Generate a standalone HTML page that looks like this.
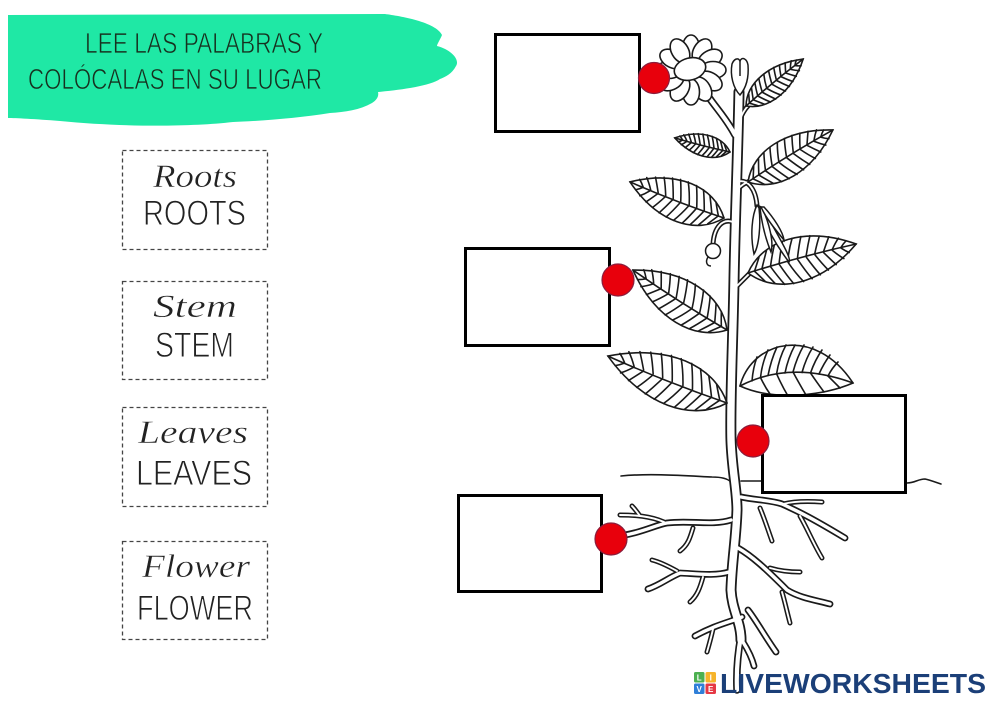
<!DOCTYPE html>
<html>
<head>
<meta charset="utf-8">
<style>
html,body{margin:0;padding:0;background:#fff;}
svg{display:block;}
</style>
</head>
<body>
<svg width="1000" height="707" viewBox="0 0 1000 707" xmlns="http://www.w3.org/2000/svg">
<defs>
  <g id="leaf" fill="none" stroke="#1a1a1a" stroke-width="1.6" stroke-linecap="round">
    <path vector-effect="non-scaling-stroke" fill="#fff" d="M0,0 C20,-22 60,-24 100,0 C60,24 20,22 0,0 Z"/>
    <path vector-effect="non-scaling-stroke" d="M0,0 Q50,-2 100,0"/>
    <path vector-effect="non-scaling-stroke" d="M6,0 Q9,-4 13,-9.5 M13,-0.4 Q17,-7 21,-13 M21,-0.6 Q25,-9 29,-15.5 M29,-0.8 Q33,-10 37,-16.8 M37,-1 Q41,-10 46,-17.2 M46,-1 Q50,-10 54,-16.8 M54,-1 Q58,-9 62,-15.6 M62,-1 Q66,-8 70,-13.4 M70,-0.8 Q74,-6 78,-11 M78,-0.6 Q82,-5 86,-8 M86,-0.4 Q89,-3 92,-4.5"/>
    <path vector-effect="non-scaling-stroke" d="M6,0 Q9,4 13,10 M13,0 Q17,7 21,13.5 M21,0 Q25,9 29,16 M29,0 Q33,10 37,17.3 M37,0 Q41,10 46,17.7 M46,0 Q50,10 54,17.3 M54,0 Q58,9 62,16 M62,0 Q66,8 70,14 M70,0 Q74,6 78,11.5 M78,0 Q82,5 86,8.5 M86,0 Q89,3 92,5"/>
  </g>
  <g id="trunk">
    <path d="M739,92 C738,150 735,220 734,280 C733,340 730,400 731,440 C732,470 737,490 737,510 C736,540 732,560 731,590 C732,610 741,622 741,640"/>
  </g>
  <g id="mid">
    <path d="M741,636 C738,652 736,668 737,690"/>
    <path d="M708,96 C716,108 726,118 735,135"/>
  </g>
  <g id="br">
    <path d="M731,520 C712,526 690,520 667,523 C655,525 640,534 612,537"/>
    <path d="M729,572 C715,576 700,574 680,573 C668,578 660,585 648,589"/>
    <path d="M741,497 C755,500 770,500 782,504 C800,512 815,520 845,538"/>
    <path d="M738,548 C752,556 765,568 787,590 C800,598 815,600 830,604"/>
    <path d="M742,617 C730,622 715,625 695,636"/>
    <path d="M748,610 C756,620 764,635 776,652"/>
    <path d="M743,642 C748,650 752,658 754,666"/>
  </g>
  <g id="sub">
    <path d="M664,522 C650,516 635,515 620,515"/>
    <path d="M640,516 C637,512 635,509 632,506"/>
    <path d="M693,528 C690,538 688,545 680,551"/>
    <path d="M677,571 C668,566 660,562 652,560"/>
    <path d="M703,577 C700,588 697,596 690,602"/>
    <path d="M783,504 C795,501 808,501 822,502"/>
    <path d="M760,508 C765,520 768,530 772,541"/>
    <path d="M800,516 C808,530 814,545 822,558"/>
    <path d="M770,568 C780,571 790,572 800,572"/>
    <path d="M782,592 C785,602 787,612 790,623"/>
    <path d="M713,629 C711,638 709,645 707,652"/>
    <path d="M733,222 C722,218 714,228 713,244"/>
    <path d="M737,182 C748,178 756,190 757,206"/>
    <path d="M737,128 C740,118 744,110 748,106"/>
    <path d="M737,190 Q742,184 750,181"/>
    <path d="M737,286 C742,281 746,277 750,273"/>
  </g>
</defs>

<!-- green cloud -->
<path fill="#1fe8a5" d="M8,15 L385,14 C400,16 436,22 442,35 C440,40 437,44 437,46 C452,50 460,60 456,66 C452,74 445,77 440,79 C430,86 400,90 378,92 C379,96 377,100 372,103 C360,110 345,112 330,113 C300,118 260,121 233,122 C190,127 120,127 60,121 C35,119 15,118 8,118 Z"/>
<g font-family="'Liberation Sans', sans-serif" font-size="29" fill="#17301f" stroke="#1fe8a5" stroke-width="0.7">
  <text x="85" y="53" textLength="238" lengthAdjust="spacingAndGlyphs">LEE LAS PALABRAS Y</text>
  <text x="28" y="89" textLength="294" lengthAdjust="spacingAndGlyphs">COLÓCALAS EN SU LUGAR</text>
</g>

<!-- word cards -->
<g fill="none" stroke="#444" stroke-width="1.3" stroke-dasharray="4 3">
  <rect x="122.5" y="150.5" width="145" height="99"/>
  <rect x="122.5" y="281.5" width="145" height="98"/>
  <rect x="122.5" y="407.5" width="145" height="99"/>
  <rect x="122.5" y="541.5" width="145" height="98"/>
</g>
<g font-family="'Liberation Serif', serif" font-style="italic" font-size="33" fill="#222" stroke="#fff" stroke-width="0.45">
  <text x="153" y="187" textLength="84" lengthAdjust="spacingAndGlyphs">Roots</text>
  <text x="153" y="317" textLength="84" lengthAdjust="spacingAndGlyphs">Stem</text>
  <text x="138" y="443" textLength="110" lengthAdjust="spacingAndGlyphs">Leaves</text>
  <text x="142" y="577" textLength="108" lengthAdjust="spacingAndGlyphs">Flower</text>
</g>
<g font-family="'Liberation Sans', sans-serif" font-size="35" fill="#222" stroke="#fff" stroke-width="0.9">
  <text x="143" y="225" textLength="103" lengthAdjust="spacingAndGlyphs">ROOTS</text>
  <text x="155" y="357" textLength="79" lengthAdjust="spacingAndGlyphs">STEM</text>
  <text x="136" y="485" textLength="116" lengthAdjust="spacingAndGlyphs">LEAVES</text>
  <text x="137" y="620" textLength="116" lengthAdjust="spacingAndGlyphs">FLOWER</text>
</g>

<!-- plant: ground line -->
<g fill="none" stroke="#1a1a1a" stroke-width="1.6" stroke-linecap="round">
  <path d="M621,476 C650,473 690,476 712,477 C722,477 728,479 731,482"/>
  <path d="M741,481 L762,481"/>
  <path d="M907,483 C915,483 918,479 925,479 C930,480 935,482 941,484"/>
</g>

<!-- stems & roots outlines -->
<g fill="none" stroke-linecap="round" stroke-linejoin="round">
  <use href="#trunk" stroke="#1a1a1a" stroke-width="11"/>
  <use href="#mid" stroke="#1a1a1a" stroke-width="7.5"/>
  <use href="#br" stroke="#1a1a1a" stroke-width="6.8"/>
  <use href="#sub" stroke="#1a1a1a" stroke-width="5"/>
  <use href="#trunk" stroke="#fff" stroke-width="7.4"/>
  <use href="#mid" stroke="#fff" stroke-width="4.2"/>
  <use href="#br" stroke="#fff" stroke-width="3.4"/>
  <use href="#sub" stroke="#fff" stroke-width="1.9"/>
</g>

<!-- leaves -->
<use href="#leaf" transform="translate(746,106) rotate(-39.4) scale(0.74,0.78)"/>
<use href="#leaf" transform="translate(730,152) rotate(194.3) scale(0.57,0.62)"/>
<use href="#leaf" transform="translate(748,182) rotate(-31.5) scale(0.996,1.08)"/>
<use href="#leaf" transform="translate(724,218) rotate(201) scale(1.007,1.18)"/>
<use href="#leaf" transform="translate(748,273) rotate(-15) scale(1.12,1.28)"/>
<use href="#leaf" transform="translate(727,330) rotate(212.5) scale(1.115,1.22)"/>
<use href="#leaf" transform="translate(727,403) rotate(201.5) scale(1.28,1.38)"/>
<g fill="none" stroke="#1a1a1a" stroke-width="1.6" stroke-linecap="round">
  <path fill="#fff" d="M740,386 C752,340 815,325 853,383 C825,395 775,402 740,386 Z"/>
  <path d="M740,386 Q790,360 853,383"/>
  <path d="M752,381 Q753,368 757,357 M760.5,377.5 Q762,363 768,350 M768,375.5 Q771,360 777,347 M776.6,373.8 Q779,358 786,345 M785,373 Q788,358 795,345 M793,372 Q797,357 804,345 M802,372.5 Q806,358 813,347 M810.5,373 Q815,360 822,350 M819,374 Q824,363 830,355 M828,376 Q832,368 838,362"/>
  <path d="M760.5,377.5 Q765,387 770,394 M776.6,373.8 Q782,386 788,396 M793,372 Q800,385 806,395 M810.5,373 Q818,384 824,392 M828,376 Q835,383 840,388"/>
</g>

<!-- berry and drooping bud -->
<g fill="#fff" stroke="#1a1a1a" stroke-width="1.5">
  <circle cx="713" cy="251" r="7.5"/>
  <path fill="none" d="M708,257 C705,262 707,266 711,266"/>
  <path d="M757,205 C752,215 750,235 754,254 C759,246 761,225 759,208 Z"/>
  <path d="M759,206 C764,222 772,240 789,262 C792,258 779,238 763,208 Z"/>
  <path d="M760,208 C762,225 766,240 771,252 C774,242 769,222 762,208 Z"/>
  <path d="M761,207 C766,218 774,228 784,240 C783,232 774,218 764,207 Z"/>
  <!-- top bud -->
  <path d="M740,95 C733,88 730,75 732,64 C734,59 738,57 740,61 C742,56 747,59 748,65 C749,78 746,88 740,95 Z"/>
  <path fill="none" d="M740,61 L740,76"/>
</g>

<!-- flower -->
<g fill="#fff" stroke="#1a1a1a" stroke-width="1.6">
  <ellipse cx="691" cy="48" rx="8.5" ry="13" transform="rotate(0 691 70)"/>
  <ellipse cx="691" cy="48" rx="8.5" ry="13" transform="rotate(30 691 70)"/>
  <ellipse cx="691" cy="48" rx="8.5" ry="13" transform="rotate(60 691 70)"/>
  <ellipse cx="691" cy="48" rx="8.5" ry="13" transform="rotate(90 691 70)"/>
  <ellipse cx="691" cy="48" rx="8.5" ry="13" transform="rotate(120 691 70)"/>
  <ellipse cx="691" cy="48" rx="8.5" ry="13" transform="rotate(150 691 70)"/>
  <ellipse cx="691" cy="48" rx="8.5" ry="13" transform="rotate(180 691 70)"/>
  <ellipse cx="691" cy="48" rx="8.5" ry="13" transform="rotate(210 691 70)"/>
  <ellipse cx="691" cy="48" rx="8.5" ry="13" transform="rotate(240 691 70)"/>
  <ellipse cx="691" cy="48" rx="8.5" ry="13" transform="rotate(270 691 70)"/>
  <ellipse cx="691" cy="48" rx="8.5" ry="13" transform="rotate(300 691 70)"/>
  <ellipse cx="691" cy="48" rx="8.5" ry="13" transform="rotate(330 691 70)"/>
  <ellipse cx="690" cy="69" rx="16" ry="11" transform="rotate(-15 690 69)"/>
</g>

<!-- answer boxes -->
<g fill="#fff" stroke="#000" stroke-width="3">
  <rect x="495.5" y="34.5" width="144" height="97"/>
  <rect x="465.5" y="248.5" width="144" height="97"/>
  <rect x="762.5" y="395.5" width="143" height="97"/>
  <rect x="458.5" y="495.5" width="143" height="96"/>
</g>

<!-- red dots -->
<g fill="#e8000c" stroke="#8a1d3c" stroke-width="1.2">
  <circle cx="654" cy="78" r="15.5"/>
  <circle cx="618" cy="280" r="16"/>
  <circle cx="753" cy="441" r="16"/>
  <circle cx="611" cy="539" r="16"/>
</g>

<!-- logo -->
<g>
  <rect x="694" y="672" width="10.5" height="10.5" rx="1.5" fill="#4cb050"/>
  <rect x="705.5" y="672" width="10.5" height="10.5" rx="1.5" fill="#f6b42a"/>
  <rect x="694" y="683.5" width="10.5" height="10.5" rx="1.5" fill="#2f7fd8"/>
  <rect x="705.5" y="683.5" width="10.5" height="10.5" rx="1.5" fill="#e53945"/>
  <g font-family="'Liberation Sans', sans-serif" font-weight="bold" font-size="8" fill="#fff" text-anchor="middle">
    <text x="699.2" y="680.5">L</text>
    <text x="710.7" y="680.5">I</text>
    <text x="699.2" y="692">V</text>
    <text x="710.7" y="692">E</text>
  </g>
  <text x="720" y="693" font-family="'Liberation Sans', sans-serif" font-weight="bold" font-size="28" fill="#1b3f78" textLength="266" lengthAdjust="spacingAndGlyphs">LIVEWORKSHEETS</text>
</g>
</svg>
</body>
</html>
